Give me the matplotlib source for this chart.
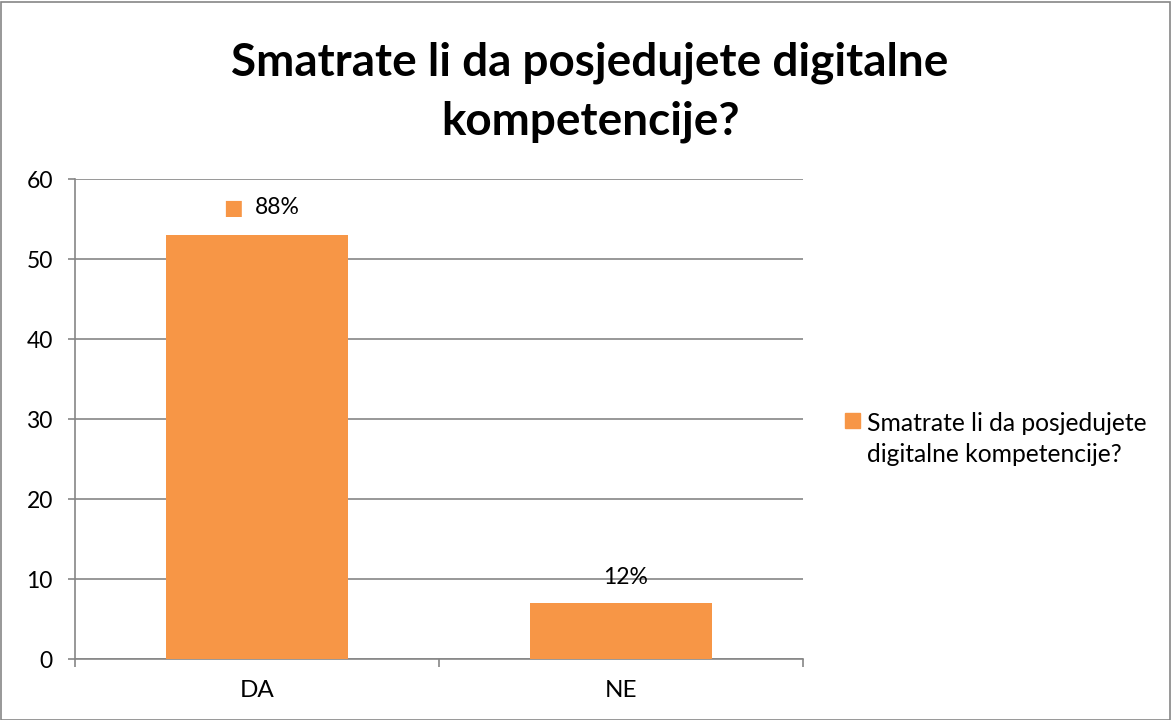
import matplotlib.pyplot as plt
from matplotlib.patches import Rectangle

categories = ['DA', 'NE']
values = [53, 7]
pct_labels = ['88%', '12%']
series_name = 'Smatrate li da posjedujete\ndigitalne kompetencije?'
title = 'Smatrate li da posjedujete digitalne\nkompetencije?'

bar_color = '#F79646'
grid_color = '#868686'
plt.rcParams['font.family'] = ['Lato', 'DejaVu Sans']

W, H = 1171, 720
fig = plt.figure(figsize=(W / 100, H / 100), dpi=100)
fig.patch.set_facecolor('white')
# border round the whole chart
fig.patches.append(Rectangle((0.5 / W, 0.5 / H), 1 - 2 / W, 1 - 2 / H,
                             transform=fig.transFigure, fill=False,
                             edgecolor=grid_color, linewidth=1.2))

ax = fig.add_axes([75 / W, 1 - 659 / H, (803 - 75) / W, (659 - 179) / H])
x = list(range(len(categories)))
ax.bar(x, values, width=0.5, color=bar_color, zorder=3)
ax.set_xlim(-0.5, 1.5)
ax.set_ylim(0, 60)
ax.set_yticks(range(0, 61, 10))
ax.yaxis.grid(True, color=grid_color, linewidth=1.2, zorder=0)
ax.set_xticks([-0.5, 0.5, 1.5], minor=False)
ax.set_xticklabels([])
ax.set_xticks(x, minor=True)
ax.set_xticklabels(categories, minor=True, fontsize=17.5)
ax.tick_params(axis='x', which='major', length=6, color=grid_color, width=1.2)
ax.tick_params(axis='x', which='minor', length=0, pad=15)
ax.tick_params(axis='y', length=5, color=grid_color, width=1.2, labelsize=16.5, pad=11)
for s in ['top', 'right']:
    ax.spines[s].set_visible(False)
for s in ['left', 'bottom']:
    ax.spines[s].set_color(grid_color)
    ax.spines[s].set_linewidth(1.2)

# data labels
ax.annotate(pct_labels[0], (x[0], values[0]), xytext=(14.5, 19.5), textcoords='offset points',
            ha='center', va='center', fontsize=16.5)
ax.annotate('\u25A0', (x[0], values[0]), xytext=(-17, 19.5), textcoords='offset points',
            ha='center', va='center', fontsize=15, color=bar_color, family='DejaVu Sans')
ax.annotate(pct_labels[1], (x[1], values[1]), xytext=(3, 18), textcoords='offset points',
            ha='center', va='center', fontsize=16.5)

fig.text(590 / W, 1 - 92 / H, title, ha='center', va='center', fontsize=33,
         fontweight='bold', linespacing=1.5)

# legend
fig.patches.append(Rectangle((845 / W, 1 - 428 / H), 15 / W, 15 / H,
                             transform=fig.transFigure, color=bar_color))
fig.text(867 / W, 1 - 439 / H, series_name, ha='left', va='center', fontsize=17.7,
         linespacing=1.45)

fig.savefig('out.png', dpi=100)
